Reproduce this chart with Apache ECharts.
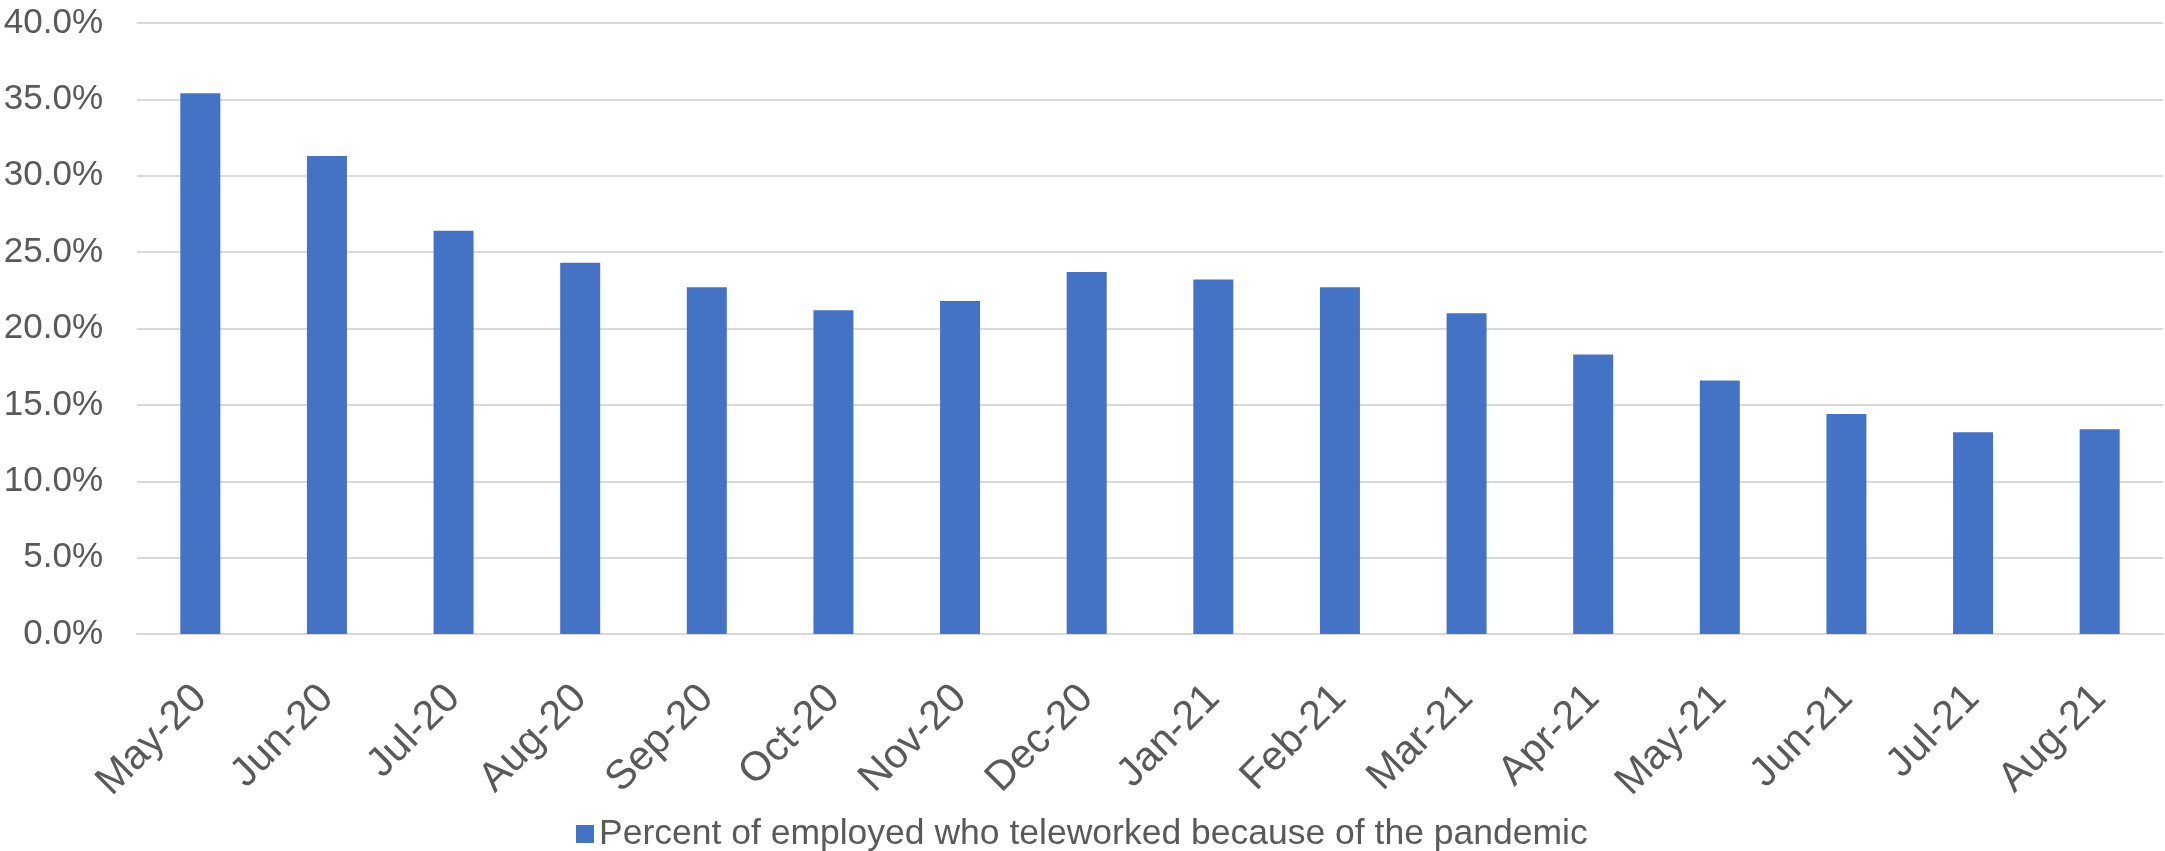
<!DOCTYPE html>
<html>
<head>
<meta charset="utf-8">
<script src="https://cdn.jsdelivr.net/npm/echarts@6/dist/echarts.min.js"></script>
<style>
  html, body { margin: 0; padding: 0; background: #ffffff; }
  #chart { width: 2165px; height: 851px; }
</style>
</head>
<body>
<div id="chart"></div>
<script>
// Monthly share of employed people who teleworked because of the pandemic (%)
const months = ['May-20', 'Jun-20', 'Jul-20', 'Aug-20', 'Sep-20', 'Oct-20', 'Nov-20', 'Dec-20',
                'Jan-21', 'Feb-21', 'Mar-21', 'Apr-21', 'May-21', 'Jun-21', 'Jul-21', 'Aug-21'];
const teleworkPct = [35.4, 31.3, 26.4, 24.3, 22.7, 21.2, 21.8, 23.7,
                     23.2, 22.7, 21.0, 18.3, 16.6, 14.4, 13.2, 13.4];
const seriesName = 'Percent of employed who teleworked because of the pandemic';
const yTicks = { min: 0, max: 40, step: 5 };

const textColor = '#595959';
const gridColor = '#d9d9d9';
const font = '"Liberation Sans", Arial, sans-serif';

const chart = echarts.init(document.getElementById('chart'), null, { renderer: 'canvas' });
chart.setOption({
  animation: false,
  backgroundColor: '#ffffff',
  grid: { left: 137, right: 2, top: 23, bottom: 217, containLabel: false },
  legend: {
    data: [seriesName],
    left: 571,
    top: 811,
    itemWidth: 18,
    itemHeight: 18,
    itemGap: 8,
    icon: 'rect',
    textStyle: { color: textColor, fontSize: 35.5, fontFamily: font }
  },
  xAxis: {
    type: 'category',
    data: months,
    boundaryGap: true,
    axisLine: { show: true, lineStyle: { color: gridColor, width: 2 } },
    axisTick: { show: false },
    axisLabel: {
      rotate: 45,
      interval: 0,
      margin: 58,
      color: textColor,
      fontSize: 41,
      fontFamily: font
    }
  },
  yAxis: {
    type: 'value',
    min: yTicks.min,
    max: yTicks.max,
    interval: yTicks.step,
    axisLine: { show: false },
    axisTick: { show: false },
    splitLine: { show: true, lineStyle: { color: gridColor, width: 2 } },
    axisLabel: {
      margin: 34,
      color: textColor,
      fontSize: 35,
      fontFamily: font,
      formatter: v => v.toFixed(1) + '%'
    }
  },
  series: [{
    name: seriesName,
    type: 'bar',
    data: teleworkPct,
    barWidth: 40,
    itemStyle: { color: '#4472c4' }
  }]
});
</script>
</body>
</html>
